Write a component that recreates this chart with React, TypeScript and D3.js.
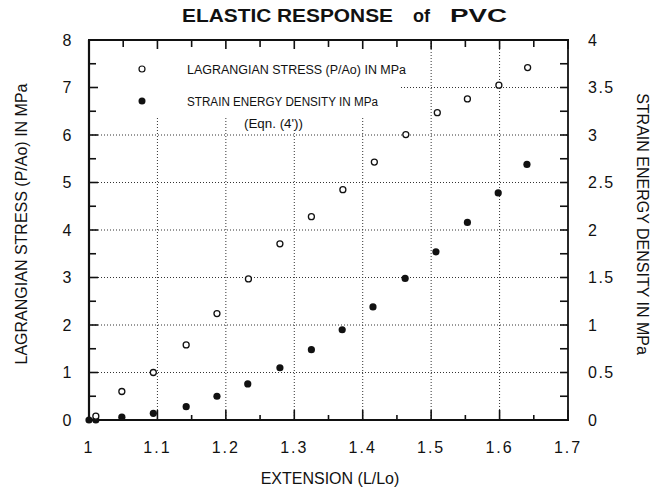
import React from "react";
import * as d3 from "d3";

// values
const stressExt = [1.01, 1.048, 1.094, 1.142, 1.187, 1.233, 1.279, 1.325, 1.371, 1.417, 1.463, 1.509, 1.553, 1.599, 1.641];
const stressVals = [0.08, 0.6, 1.0, 1.58, 2.24, 2.97, 3.71, 4.28, 4.85, 5.43, 6.01, 6.47, 6.76, 7.05, 7.42];
const sedExt = [1.0, 1.01, 1.048, 1.094, 1.142, 1.187, 1.232, 1.279, 1.325, 1.37, 1.415, 1.462, 1.507, 1.553, 1.598, 1.64];
const sedVals = [0, 0, 0.03, 0.07, 0.14, 0.25, 0.38, 0.55, 0.74, 0.95, 1.19, 1.49, 1.77, 2.08, 2.39, 2.69];

const xTicks = [1, 1.1, 1.2, 1.3, 1.4, 1.5, 1.6, 1.7];
const leftTicks = [0, 1, 2, 3, 4, 5, 6, 7, 8];
const rightTicks = [0, 0.5, 1, 1.5, 2, 2.5, 3, 3.5, 4];

const W = 651;
const H = 494;
const font = "Arial, 'Liberation Sans', Helvetica, sans-serif";

const App = () => {
  const x = d3.scaleLinear().domain([1, 1.7]).range([89, 568]);
  const yL = d3.scaleLinear().domain([0, 8]).range([420, 40]);
  const yR = d3.scaleLinear().domain([0, 4]).range([420, 40]);
  const [x0, x1] = x.range();
  const [yb, yt] = yL.range();

  const minorX = d3.range(1, 1.7001, 0.05);
  const halfY = d3.range(0, 8.001, 0.5);
  const quarterR = d3.range(0, 4.001, 0.25);

  const grid = { stroke: "#333", strokeWidth: 1, strokeDasharray: "1 2" };

  return (
    <svg width={W} height={H} style={{ position: "absolute", left: 0, top: 0, background: "#fff" }} fontFamily={font}>
      <rect width={W} height={H} fill="#fff" />

      {/* title */}
      <g fontWeight="bold" fontSize="18" fill="#111">
        <text x={182} y={22} textLength={211} lengthAdjust="spacingAndGlyphs">ELASTIC RESPONSE</text>
        <text x={413} y={22}>of</text>
        <text x={450} y={22} textLength={57} lengthAdjust="spacingAndGlyphs">PVC</text>
      </g>

      {/* dotted grid */}
      <g>
        {xTicks.slice(1, -1).map(t => (
          <line key={"gx" + t} x1={x(t)} x2={x(t)} y1={yt} y2={yb} {...grid} />
        ))}
        {leftTicks.slice(1, -1).map(t => (
          <line key={"gy" + t} x1={x0} x2={x1} y1={yL(t)} y2={yL(t)} {...grid} />
        ))}
      </g>

      {/* legend sits on a blank patch */}
      <rect x={x0 + 1} y={yt + 1} width={398 - x0} height={117 - yt} fill="#fff" />
      <rect x={232} y={116} width={85} height={13} fill="#fff" />
      <g fontSize="12.5" fill="#111">
        <circle cx={142} cy={69} r={3} fill="#fff" stroke="#111" strokeWidth={1.2} />
        <text x={187} y={73.5} textLength={219} lengthAdjust="spacingAndGlyphs">LAGRANGIAN STRESS (P/Ao)  IN MPa</text>
        <circle cx={142} cy={101} r={3.5} fill="#111" />
        <text x={187} y={105.5} textLength={191} lengthAdjust="spacingAndGlyphs">STRAIN ENERGY DENSITY  IN  MPa</text>
        <text x={244} y={127.5} textLength={59} lengthAdjust="spacingAndGlyphs">(Eqn.  (4'))</text>
      </g>

      {/* frame */}
      <g fill="none" stroke="#111">
        <line x1={x0} x2={x0} y1={yt} y2={yb + 1} strokeWidth={2.2} />
        <line x1={x0 - 1} x2={x1 + 1} y1={yb} y2={yb} strokeWidth={2.2} />
        <line x1={x0 - 1} x2={x1 + 1} y1={yt} y2={yt} strokeWidth={1.8} />
        <line x1={x1} x2={x1} y1={yt} y2={yb + 1} strokeWidth={1.8} />
      </g>

      {/* ticks */}
      <g stroke="#111" strokeWidth={1.6}>
        {minorX.map((t, i) => {
          const major = i % 2 === 0;
          return (
            <g key={"tx" + i}>
              <line x1={x(t)} x2={x(t)} y1={yb} y2={yb - (major ? 10 : 5)} />
              <line x1={x(t)} x2={x(t)} y1={yt} y2={yt + (major ? 9 : 7)} />
            </g>
          );
        })}
        {halfY.map((t, i) => (
          <line key={"tl" + i} x1={x0} x2={x0 + (i % 2 === 0 ? 9 : 7)} y1={yL(t)} y2={yL(t)} />
        ))}
        {quarterR.map((t, i) => (
          <line key={"tr" + i} x1={x1} x2={x1 - 8} y1={yR(t)} y2={yR(t)} />
        ))}
      </g>

      {/* tick labels */}
      <g fontSize="16" fill="#111">
        {leftTicks.map(t => (
          <text key={"ll" + t} x={67} y={yL(t)} dy="0.36em" textAnchor="middle">{t}</text>
        ))}
        {rightTicks.map(t => (
          <text key={"rl" + t} x={588} y={yR(t)} dy="0.36em" letterSpacing="1.5">{d3.format("")(t)}</text>
        ))}
        {xTicks.map(t => (
          <text key={"bl" + t} x={x(t)} y={453} textAnchor="middle" letterSpacing="2">{t === 1 ? "1" : t.toFixed(1)}</text>
        ))}
      </g>

      {/* axis titles */}
      <g fontSize="16" fill="#111">
        <text x={330} y={484} textAnchor="middle">EXTENSION (L/Lo)</text>
        <text transform="translate(27,224) rotate(-90)" textAnchor="middle">LAGRANGIAN STRESS (P/Ao)  IN MPa</text>
        <text transform="translate(637,224) rotate(90)" textAnchor="middle">STRAIN ENERGY DENSITY  IN MPa</text>
      </g>

      {/* data */}
      <g>
        {sedExt.map((e, i) => (
          <circle key={"s" + i} cx={x(e)} cy={yR(sedVals[i])} r={3.6} fill="#111" />
        ))}
        {stressExt.map((e, i) => (
          <circle key={"o" + i} cx={x(e)} cy={yL(stressVals[i])} r={3} fill="#fff" stroke="#111" strokeWidth={1.3} />
        ))}
      </g>
    </svg>
  );
};

export default App;
